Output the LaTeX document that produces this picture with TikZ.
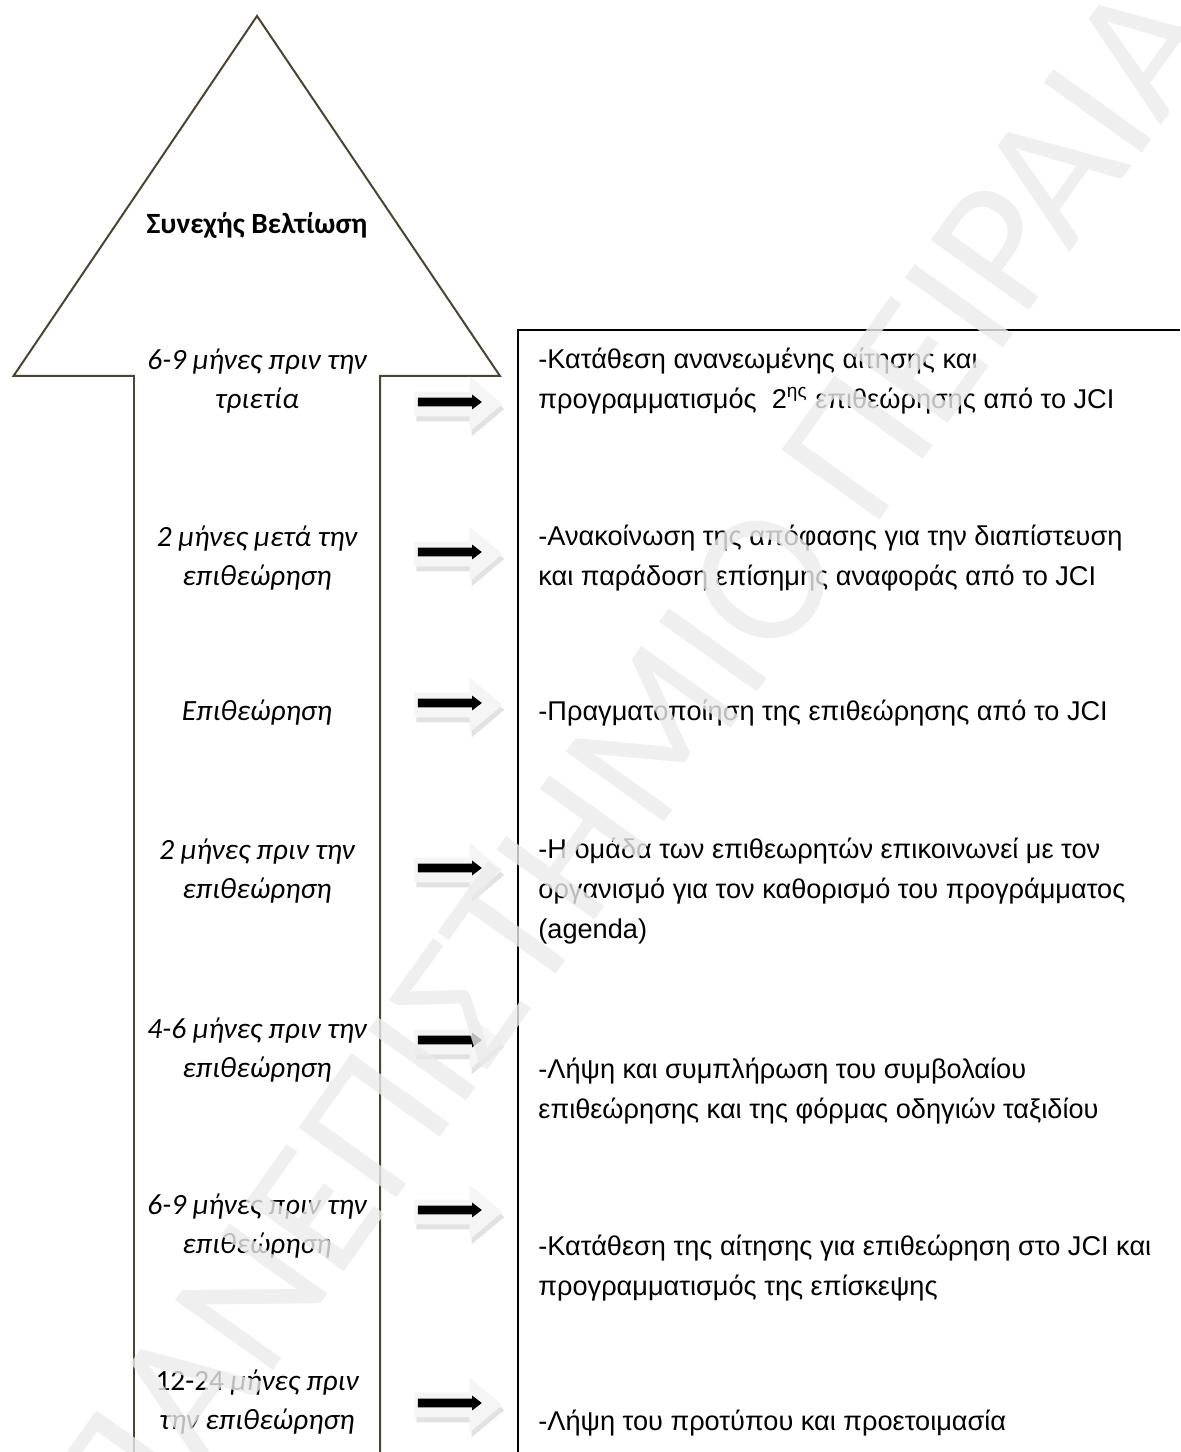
\documentclass[tikz,border=0pt]{standalone}
\usepackage{fontspec}
\setmainfont{Carlito}
\newfontfamily\arialfont{Liberation Sans}
\usetikzlibrary{shapes.arrows,shadows}

\definecolor{arrowline}{RGB}{74,69,50}

\tikzstyle{period}=[align=center, inner sep=0,
                    font=\fontsize{14.7}{19.5}\selectfont\itshape]
\tikzstyle{action}=[align=left, anchor=west, inner sep=0,
                    font=\arialfont\fontsize{13.6}{20}\selectfont]
\tikzstyle{grayarrow}=[single arrow, fill=gray!8, draw=none,
                       minimum height=44pt, inner sep=6pt,
                       single arrow head extend=7.5pt, single arrow tip angle=80,
                       drop shadow={shadow xshift=1pt, shadow yshift=-2.5pt, fill=gray!45}]
\tikzstyle{blackarrow}=[single arrow, fill=black, draw=none,
                        minimum height=32pt, inner sep=2pt,
                        single arrow head extend=1.5pt, single arrow tip angle=75]

\begin{document}
\begin{tikzpicture}[x=1.76cm, y=1.76cm]
\useasboundingbox (0,0) rectangle (11.8,14.52);
%%%%%%%%%%%%%%%%%%%%%%%%%%%%%%
% shapes

% big arrow
\draw[arrowline, line width=1pt] (1.34,0) -- (1.34,10.76) -- (0.135,10.76) -- (2.57,14.36)
     -- (5.00,10.76) -- (3.80,10.76) -- (3.80,0);

% box
\draw[line width=1pt] (11.8,11.22) -- (5.18,11.22) -- (5.18,0);

%%%%%%%%%%%%%%%%%%%%%%%%%%%%%%
% nodes

\node (title) at (2.57, 12.27) [font=\fontsize{14.7}{18}\selectfont\bfseries] {Συνεχής Βελτίωση};

% periods
\node (per_a) at (2.57, 10.71) [period] {6-9 μήνες πριν την\\τριετία};

\node (per_b) at (2.57, 8.94) [period] {2 μήνες μετά την\\επιθεώρηση};

\node (per_c) at (2.57, 7.39) [period] {Επιθεώρηση};

\node (per_d) at (2.57, 5.81) [period] {2 μήνες πριν την\\επιθεώρηση};

\node (per_e) at (2.57, 4.02) [period] {4-6 μήνες πριν την\\επιθεώρηση};

\node (per_f) at (2.57, 2.26) [period] {6-9 μήνες πριν την\\επιθεώρηση};

\node (per_g) at (2.57, 0.50) [period] {{\upshape 12-24} μήνες πριν\\την επιθεώρηση};

% actions
\node (act_a) at (5.38, 10.71) [action] {-Κατάθεση ανανεωμένης αίτησης και\\προγραμματισμός\ \ 2\textsuperscript{ης} επιθεώρησης από το JCI};

\node (act_b) at (5.38, 8.94) [action] {-Ανακοίνωση της απόφασης για την διαπίστευση\\και παράδοση επίσημης αναφοράς από το JCI};

\node (act_c) at (5.38, 7.39) [action] {-Πραγματοποίηση της επιθεώρησης από το JCI};

\node (act_d) at (5.38, 5.61) [action] {-Η ομάδα των επιθεωρητών επικοινωνεί με τον\\οργανισμό για τον καθορισμό του προγράμματος\\(agenda)};

\node (act_e) at (5.38, 3.61) [action] {-Λήψη και συμπλήρωση του συμβολαίου\\επιθεώρησης και της φόρμας οδηγιών ταξιδίου};

\node (act_f) at (5.38, 1.84) [action] {-Κατάθεση της αίτησης για επιθεώρηση στο JCI και\\προγραμματισμός της επίσκεψης};

\node (act_g) at (5.38, 0.29) [action] {-Λήψη του προτύπου και προετοιμασία};

%%%%%%%%%%%%%%%%%%%%%%%%%%%%%%
% arrows

\node (gray_a) at (4.51, 10.48) [grayarrow] {};
\node (gray_b) at (4.51, 8.98) [grayarrow] {};
\node (gray_c) at (4.51, 7.47) [grayarrow] {};
\node (gray_d) at (4.51, 5.82) [grayarrow] {};
\node (gray_e) at (4.51, 4.10) [grayarrow] {};
\node (gray_f) at (4.51, 2.40) [grayarrow] {};
\node (gray_g) at (4.51, 0.47) [grayarrow] {};

\node (black_a) at (4.47, 10.50) [blackarrow] {};
\node (black_b) at (4.47, 9.00) [blackarrow] {};
\node (black_c) at (4.47, 7.49) [blackarrow] {};
\node (black_d) at (4.47, 5.84) [blackarrow] {};
\node (black_e) at (4.47, 4.12) [blackarrow] {};
\node (black_f) at (4.47, 2.42) [blackarrow] {};
\node (black_g) at (4.47, 0.49) [blackarrow] {};

% watermark
\node (watermark) at (6.30, 6.85) [rotate=54.5, text=gray!16, opacity=0.8,
      font=\fontsize{94}{94}\selectfont] {ΠΑΝΕΠΙΣΤΗΜΙΟ ΠΕΙΡΑΙΑ};

\end{tikzpicture}
\end{document}
